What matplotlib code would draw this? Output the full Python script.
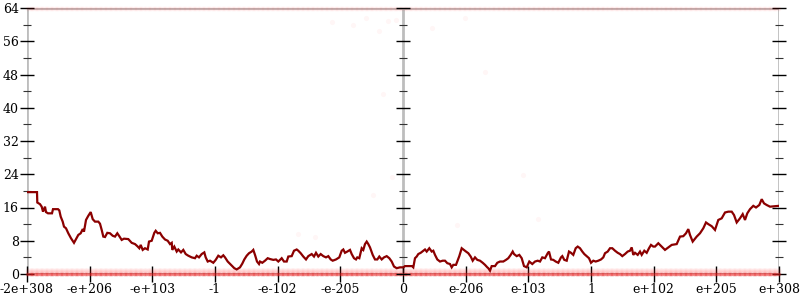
import numpy as np
import matplotlib
matplotlib.use("Agg")
import matplotlib.pyplot as plt
from matplotlib.ticker import MultipleLocator

# ---- data -------------------------------------------------------------
# x axis: sample position along the (ordered) floating-point input range, 0..752
tick_labels = ["-2e+308", "-e+206", "-e+103", "-1", "-e-102", "-e-205", "0",
               "e-206", "e-103", "1", "e+102", "e+205", "e+308"]
x_max = 752

line_pos = [
    0, 10, 10.3, 13, 14.7, 16, 18, 19, 21, 25,
    26, 31, 32.3, 33.7, 35.7, 37, 39, 41.3, 44, 47,
    49, 51.3, 53.7, 55.7, 57, 59, 61.3, 63.7, 65.7, 68,
    71.3, 73, 74.7, 76.3, 78, 80.3, 83, 85.7, 88, 90.3,
    92.3, 94.7, 97, 101.3, 104.7, 108, 110.3, 112.3, 113.7, 115.7,
    118, 120.7, 122, 124.7, 127.3, 128.7, 130.7, 133, 135.3, 138,
    140.7, 143, 144.7, 145.3, 147.3, 149.7, 151.3, 154, 156.3, 158.7,
    161.3, 164.7, 168, 169.7, 172, 174.7, 177.3, 178.7, 180.7, 183,
    186.3, 188.7, 191.3, 194, 196.3, 198, 200.7, 204, 207.3, 209.7,
    213, 215.3, 217.3, 219.7, 222, 224.7, 226.3, 228, 230, 232,
    233, 235.3, 238, 240.7, 243, 246.3, 249, 251.3, 254.7, 257,
    259.7, 261.3, 264.7, 267, 269.7, 271.3, 273.7, 276.3, 279, 281.3,
    284.7, 287, 289, 291.3, 293.7, 296.3, 299, 301.3, 303.7, 305.7,
    309, 312.3, 314.7, 316.3, 318, 320.3, 323, 324.7, 327, 329,
    330.3, 332.3, 334.7, 336.3, 338, 339.7, 341.3, 343, 345.7, 348,
    350.3, 352.3, 354.7, 357, 359.7, 362.3, 364.7, 367, 369.7, 373,
    376.3, 378, 385, 386.3, 388, 389.7, 391.3, 393.7, 396.3, 398,
    399.7, 402.3, 404.7, 406.3, 408, 410.3, 413, 415.7, 418, 420.3,
    423, 424.7, 426.3, 429, 430.3, 432.3, 434.7, 436.3, 439, 441.3,
    443.7, 445.7, 448, 450.3, 453, 455.7, 458, 460.3, 461.3, 463,
    464.7, 468, 470.3, 473, 476.3, 479, 481.3, 483.7, 485.7, 487,
    489.7, 492.3, 494.7, 497, 499.7, 502.3, 505.3, 508, 510.7, 513,
    515.3, 518, 520.7, 522, 524, 526.3, 528.7, 531.3, 534, 535.3,
    537.3, 539.7, 542, 544, 546.3, 548.7, 550.7, 553, 555.3, 557.3,
    559.7, 562, 564, 566.3, 568.7, 571.3, 574, 576.3, 578, 580.7,
    583, 585.3, 588, 590.7, 593, 595.3, 598, 600.7, 603, 604.7,
    606.3, 608, 610.7, 613, 614.7, 617.3, 619.7, 622, 624, 626.3,
    628, 631.3, 634.7, 638, 641.3, 644.7, 649.7, 653, 656.3, 659,
    661.3, 663, 665.7, 669.7, 673, 676.3, 679, 681.3, 684.7, 688,
    691.3, 694.7, 698, 701.3, 704.7, 707, 709.7, 713, 715.7, 718,
    720.3, 723, 726.3, 729, 732.3, 734.7, 737, 739.7, 743, 752,
]
line_err = [
    19.7, 19.7, 17.2, 16.8, 16.2, 15.0, 16.2, 14.9, 14.6, 14.6,
    15.6, 15.6, 15.3, 13.8, 12.6, 11.4, 11.0, 9.8, 8.6, 7.5,
    8.4, 9.4, 9.8, 10.8, 10.2, 13.0, 14.0, 14.9, 13.2, 12.6,
    12.6, 12.1, 10.6, 9.0, 8.9, 9.9, 9.8, 9.2, 9.0, 9.8,
    9.1, 8.2, 8.5, 8.4, 7.5, 7.2, 6.7, 6.2, 7.0, 5.8,
    6.2, 5.9, 7.8, 8.0, 9.9, 10.4, 9.8, 9.9, 9.0, 8.3,
    8.0, 7.2, 7.5, 5.8, 6.6, 5.4, 5.9, 5.2, 5.8, 4.8,
    4.4, 4.0, 3.8, 4.4, 4.0, 4.8, 5.2, 4.0, 3.0, 3.2,
    2.7, 3.4, 4.4, 4.0, 4.5, 4.0, 3.0, 2.2, 1.4, 1.1,
    1.6, 2.5, 3.5, 4.4, 5.0, 5.4, 5.8, 4.6, 3.0, 2.4,
    3.0, 2.7, 3.2, 3.8, 3.6, 3.4, 3.5, 3.0, 3.8, 3.0,
    3.0, 4.2, 4.3, 5.6, 5.9, 5.6, 5.0, 4.2, 3.5, 4.3,
    4.8, 4.2, 5.1, 4.2, 4.8, 4.3, 4.0, 4.3, 3.5, 3.2,
    3.5, 4.0, 5.6, 5.9, 5.1, 5.4, 5.8, 4.8, 3.8, 3.5,
    4.0, 3.8, 6.2, 5.8, 7.2, 7.8, 7.2, 6.4, 4.6, 3.5,
    3.5, 4.2, 3.5, 4.0, 4.3, 3.8, 3.0, 1.8, 1.4, 1.6,
    1.6, 1.9, 1.9, 1.6, 3.8, 4.2, 4.8, 5.1, 5.6, 5.9,
    5.4, 6.2, 5.4, 5.6, 4.6, 3.5, 3.0, 3.2, 3.2, 2.6,
    2.4, 1.6, 2.2, 2.2, 3.0, 4.3, 6.2, 5.9, 5.4, 5.0,
    4.2, 3.2, 4.0, 3.4, 3.2, 2.7, 2.2, 1.6, 1.4, 0.8,
    1.9, 1.9, 2.7, 3.0, 3.0, 3.4, 3.8, 4.6, 5.4, 4.8,
    4.3, 4.6, 3.8, 1.9, 1.6, 3.0, 2.4, 3.0, 3.2, 3.0,
    4.0, 3.8, 5.0, 5.4, 3.5, 3.4, 3.0, 2.7, 4.0, 4.3,
    3.4, 3.2, 5.4, 5.1, 4.6, 6.2, 6.6, 6.2, 5.4, 4.8,
    4.3, 3.8, 2.7, 3.2, 3.0, 3.2, 3.5, 4.0, 5.0, 5.4,
    6.2, 6.2, 5.6, 5.1, 4.8, 4.3, 4.8, 5.4, 5.6, 6.4,
    4.6, 5.1, 4.6, 5.4, 4.6, 5.6, 5.1, 6.2, 7.0, 6.6,
    6.6, 7.4, 6.6, 5.8, 6.4, 7.0, 7.2, 9.0, 9.1, 9.8,
    10.8, 9.4, 7.8, 9.0, 9.8, 11.0, 12.4, 12.0, 11.5, 10.6,
    13.0, 13.4, 14.8, 15.0, 15.0, 14.2, 12.4, 13.4, 14.4, 13.0,
    14.6, 15.6, 16.4, 16.0, 16.6, 18.0, 17.0, 16.6, 16.2, 16.4,
]
assert len(line_pos) == len(line_err)

# isolated sample points visible in the cloud
outlier_pos = [304.7, 326, 339, 352, 361, 369, 405, 438, 356, 458,
               364.7, 346, 270.7, 288, 496, 430, 510.7]
outlier_err = [60.7, 59.9, 61.6, 58.5, 60.9, 61.1, 59.2, 61.6, 43.3, 48.7,
               23.4, 19.0, 9.6, 8.9, 23.8, 11.9, 13.3]

# the dense sample cloud: points sit at 0 bits, just above 0, and at 64 bits
cloud_pos = np.linspace(0, x_max, 600)
cloud_levels_low = [0.0, 0.5, 1.0]
cloud_levels_high = [64.0, 63.7]

# ---- figure -----------------------------------------------------------
fig = plt.figure(figsize=(8, 3), dpi=100)
ax = fig.add_axes([27 / 800, 26 / 300, 752 / 800, 266 / 300])
ax.set_xlim(0, x_max)
ax.set_ylim(0, 64)
for s in ax.spines.values():
    s.set_visible(False)

axis_gray = "#bdbdbd"
mid = x_max / 2
for xv in (0, mid, x_max):
    ax.axvline(xv, color=axis_gray, lw=2, zorder=1)
ax.axhline(64, color=axis_gray, lw=2, zorder=1)
ax.axhline(0, color=axis_gray, lw=2, zorder=1)

# sample cloud
for lv in cloud_levels_low[1:]:
    ax.scatter(cloud_pos, np.full_like(cloud_pos, lv), s=10, color="#ff2020",
               alpha=0.04, linewidths=0, zorder=2, clip_on=False)
ax.scatter(cloud_pos, np.full_like(cloud_pos, cloud_levels_low[0]), s=7,
           color="#e82020", alpha=0.3, linewidths=0, zorder=2, clip_on=False)
for lv in cloud_levels_high:
    ax.scatter(cloud_pos, np.full_like(cloud_pos, lv), s=8, color="#ff2020",
               alpha=0.025, linewidths=0, zorder=2, clip_on=False)
ax.scatter(outlier_pos, outlier_err, s=14, color="#ff3030", alpha=0.04,
           linewidths=0, zorder=2)

# averaged error line
ax.plot(line_pos, line_err, color="#8b0000", lw=1.6, zorder=4,
        solid_joinstyle="miter")

# y ticks (left axis labelled, right axis unlabelled)
ax.yaxis.set_major_locator(MultipleLocator(8))
ax.yaxis.set_minor_locator(MultipleLocator(4))
ax.tick_params(axis="y", which="major", direction="inout", length=10, width=1,
               color="black", left=True, right=True, labelleft=True,
               labelright=False, labelsize=9, pad=1)
ax.tick_params(axis="y", which="minor", direction="inout", length=6, width=0.8,
               color="#333333", left=True, right=True)

# ticks on the middle axis
ax.plot(np.full(9, mid), np.arange(0, 65, 8), linestyle="none", marker="_",
        markersize=10, markeredgewidth=1, color="black", zorder=3, clip_on=False)
ax.plot(np.full(8, mid), np.arange(4, 64, 8), linestyle="none", marker="_",
        markersize=6, markeredgewidth=0.8, color="#333333", zorder=3)

# x ticks
ax.set_xticks(np.linspace(0, x_max, len(tick_labels)))
ax.set_xticklabels(tick_labels)
ax.tick_params(axis="x", which="major", direction="inout", length=11, width=1,
               color="black", labelsize=9, pad=1)

for lab in ax.get_xticklabels() + ax.get_yticklabels():
    lab.set_family("DejaVu Serif")

fig.savefig("out.png", dpi=100)
